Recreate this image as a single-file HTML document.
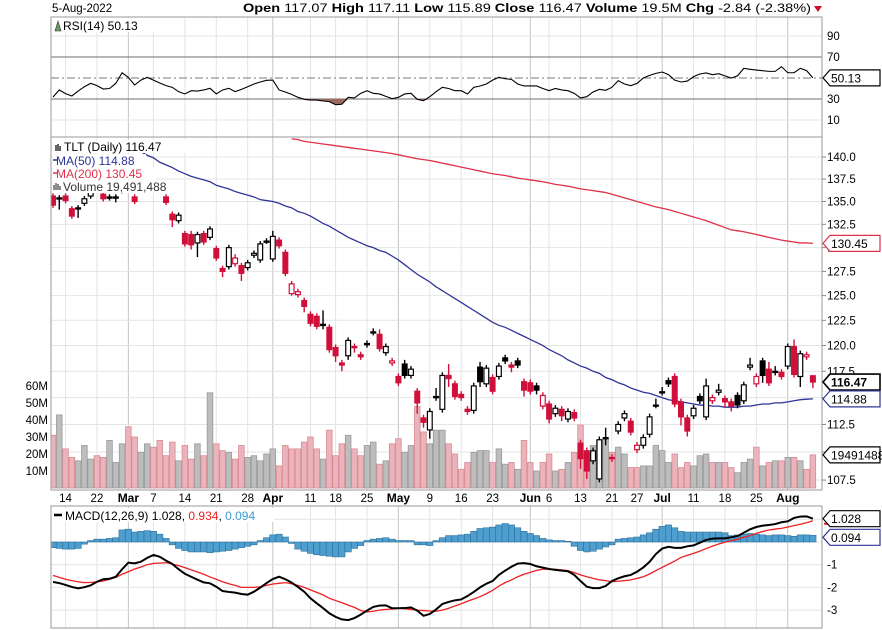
<!DOCTYPE html>
<html><head><meta charset="utf-8"><style>
html,body{margin:0;padding:0;background:#fff;}
svg{display:block;font-family:"Liberation Sans",Arial,sans-serif;}
</style></head><body>
<svg id="chart" width="882" height="630" viewBox="0 0 882 630" xmlns="http://www.w3.org/2000/svg">
<g id="header" font-size="12">
<text x="52" y="12" font-size="11.5" fill="#000">5-Aug-2022</text>
<text x="243" y="12" fill="#000" textLength="568" lengthAdjust="spacingAndGlyphs"><tspan font-weight="bold">Open</tspan> 117.07 <tspan font-weight="bold">High</tspan> 117.11 <tspan font-weight="bold">Low</tspan> 115.89 <tspan font-weight="bold">Close</tspan> 116.47 <tspan font-weight="bold">Volume</tspan> 19.5M <tspan font-weight="bold">Chg</tspan> -2.84 (-2.38%)</text>
<path d="M814,6 L822,6 L818,12 Z" fill="#c8102e"/>
</g>
<g id="grid"></g>
<g id="rsi"></g>
<g id="price"></g>
<g id="macd"></g>
<g id="frames"></g>
<g id="labels"></g>
</svg>
<script>
// ---------- data ----------
const opens=[135.6,135.4,135.6,134.2,134.2,134.8,135.6,136.7,135.8,135.5,
135.4,136.2,136.8,135.5,136.3,136.9,137.1,136.8,135.5,133.6,
132.9,131.5,131.4,130.5,131.5,131.1,129.9,127.8,128.0,128.3,
128.1,127.9,129.2,128.7,130.6,128.8,130.8,129.5,125.2,125.1,
124.5,123.1,122.9,122.1,121.8,119.8,118.3,119.0,119.9,119.1,
120.2,121.3,121.1,119.3,118.3,117.0,118.2,117.1,115.6,113.1,
112.0,115.1,113.9,117.1,116.3,115.3,113.9,113.8,117.9,116.3,
116.9,117.0,118.8,118.1,118.5,116.5,116.4,116.1,114.2,114.4,
113.5,113.9,113.0,113.6,110.8,110.1,109.2,107.6,111.3,109.5,
111.9,113.1,112.8,110.2,110.6,111.6,114.25,115.5,116.6,117.0,
114.6,113.1,113.3,115.1,113.2,114.7,115.5,114.9,114.6,115.2,
114.7,117.9,116.3,118.5,117.7,117.5,117.4,118.0,119.9,117.0,
118.9,117.07];
const closes=[134.6,135.3,135.1,133.4,134.3,135.3,136.6,136.4,135.3,135.4,
135.5,136.8,136.5,135.0,136.9,137.2,136.8,136.5,134.9,133.0,
133.5,130.4,130.3,131.4,130.6,132.0,128.9,127.5,130.0,128.9,
127.3,128.4,129.4,130.4,130.7,131.2,130.2,127.3,126.2,125.4,
123.9,122.2,121.9,122.0,119.6,119.0,118.1,120.5,119.8,118.9,
120.1,121.35,119.7,119.9,118.5,116.4,117.1,117.7,114.5,112.7,
113.7,115.0,117.1,116.8,115.1,115.0,113.7,116.1,116.5,117.8,
115.6,118.0,118.5,117.9,118.1,115.7,115.6,115.7,115.2,113.0,
114.0,113.3,113.7,113.1,109.4,108.3,110.1,111.1,111.2,109.4,
112.5,113.5,111.8,110.6,111.3,113.2,114.3,115.55,116.3,114.4,
113.2,111.9,114.0,114.7,116.1,115.0,115.7,114.6,114.2,114.3,
116.2,118.1,117.0,117.1,116.4,117.45,117.0,119.9,117.2,119.2,
119.1,116.47];
const highs=[135.9,135.7,135.9,134.5,134.6,135.6,136.9,137.0,136.1,135.8,
135.8,137.1,137.1,135.8,137.2,137.5,137.4,137.1,135.8,133.9,
133.8,131.8,131.8,131.7,131.8,132.3,130.2,128.1,130.3,129.3,
128.4,128.7,129.7,130.7,131.0,131.8,131.1,129.8,126.5,125.7,
124.8,123.4,123.2,123.5,122.1,120.1,118.6,120.8,120.2,119.4,
120.5,121.7,121.6,120.2,118.8,117.3,118.6,118.0,115.9,113.4,
114.0,115.9,117.4,118.2,116.6,115.6,114.2,116.4,118.4,118.1,
117.2,118.3,119.1,118.4,118.8,116.8,116.7,116.4,115.5,114.7,
114.3,114.2,114.0,113.9,111.1,110.4,110.4,111.4,112.2,109.8,
112.8,113.8,113.1,110.9,111.6,113.5,114.9,116.0,116.9,117.3,
114.9,113.4,114.3,115.4,116.8,115.3,116.3,115.2,114.9,115.5,
116.5,118.8,117.3,118.8,118.4,118.0,117.7,120.2,120.6,119.5,
119.4,117.11];
const lows=[134.3,134.1,134.8,133.1,133.2,134.5,135.3,136.1,135.0,135.1,
134.9,135.9,136.2,134.7,136.0,136.6,136.5,136.2,134.6,132.2,
132.6,130.1,129.8,129.0,130.3,130.8,128.6,126.9,127.7,128.0,
126.5,127.6,128.9,128.4,130.4,128.5,129.9,127.0,125.0,124.8,
123.3,121.9,121.6,121.6,119.3,118.4,117.5,118.6,119.3,118.6,
119.8,121.0,119.4,119.0,118.0,116.1,116.8,116.8,113.5,112.2,
111.2,114.7,113.6,116.0,114.8,114.7,113.4,113.5,116.0,116.0,
115.3,116.7,118.2,117.4,117.8,115.1,115.3,115.3,113.9,112.6,
113.2,112.8,112.7,112.8,108.5,107.6,108.9,107.3,110.6,109.1,
111.6,112.8,111.5,109.9,110.3,111.3,114.0,115.2,116.0,114.1,
112.4,111.4,113.0,114.4,112.9,114.4,115.2,114.1,113.7,114.0,
114.4,117.6,116.0,116.4,116.1,117.1,116.7,117.7,116.9,116.0,
118.6,115.89];
const volumes=[31,43,23,18,16,25,17,19,18,28,15,26,36,30,21,26,24,28,19,27,
16,25,17,26,19,56,26,22,21,17,25,18,19,16,20,23,13,25,23,23,
27,30,23,17,34,19,26,31,23,19,25,27,14,16,26,29,21,25,48,33,
26,34,34,26,20,11,15,21,22,22,15,23,14,15,11,28,15,10,15,20,
10,11,15,21,37,20,25,28,29,21,24,20,12,12,13,13,25,22,15,20,
12,15,13,19,20,15,15,15,12,9,15,17,24,13,15,16,16,18,18,16,
11,19.49];
const ma50=[null,null,null,null,null,null,null,null,null,null,null,null,
141.0,140.8,140.6,140.2,139.9,139.4,139.1,138.8,138.4,138.1,137.8,137.6,137.4,137.2,136.8,136.6,136.4,136.1,
135.9,135.7,135.5,135.2,135.1,135.0,134.8,134.5,134.3,133.9,133.7,133.4,133.0,132.6,132.3,131.9,131.5,131.1,
130.8,130.5,130.2,130.0,129.7,129.5,129.1,128.7,128.2,127.7,127.2,126.8,126.4,125.9,125.5,125.1,124.7,124.3,
123.9,123.5,123.1,122.7,122.3,122.0,121.8,121.5,121.2,120.9,120.6,120.3,120.0,119.6,119.3,119.0,118.6,118.3,
118.0,117.8,117.5,117.3,116.9,116.7,116.4,116.2,115.9,115.7,115.5,115.4,115.2,115.0,114.8,114.7,114.6,114.5,
114.4,114.3,114.3,114.2,114.2,114.1,114.1,114.1,114.2,114.2,114.3,114.4,114.4,114.5,114.5,114.6,114.7,114.8,
114.85,114.88];
const ma200=[null,null,null,null,null,null,null,null,null,null,null,null,null,null,null,null,null,null,null,null,
null,null,null,null,null,null,null,null,null,null,null,null,null,null,null,null,null,null,
142.1,142.0,141.8,141.7,141.6,141.5,141.4,141.3,141.2,141.1,141.0,140.9,140.8,140.7,140.6,140.5,140.4,140.25,
140.1,139.95,139.8,139.7,139.6,139.45,139.3,139.15,139.0,138.85,138.7,138.55,138.4,138.25,138.1,138.0,137.9,137.75,
137.6,137.5,137.4,137.3,137.2,137.05,136.9,136.8,136.7,136.55,136.4,136.3,136.2,136.1,136.0,135.8,135.6,135.4,
135.2,135.0,134.8,134.6,134.4,134.25,134.1,133.9,133.7,133.5,133.3,133.1,132.9,132.65,132.4,132.15,131.9,131.8,
131.7,131.55,131.4,131.25,131.1,130.95,130.8,130.7,130.6,130.5,130.5,130.45];
const rsiValues=[31.9,38.6,35.1,32.9,37.6,41.7,44.9,42.7,39.5,40,44.9,55,50.6,43.3,48,50.6,48,45.2,42.7,41.1,
37,34.8,37.9,37.6,38.6,40.2,34.8,38.6,40.2,37,39.2,41.7,44.3,46.2,47.8,48,38.6,36.7,34.4,31.6,
29.7,29,29,28.1,27.5,24.6,25,31.6,31,35.4,37.9,35.4,34.8,32.5,30.3,31.6,34.8,35.4,29.7,28.4,
32.2,37,41.1,40,37.9,37.9,34.8,41.1,42.4,44.3,48,50.6,49.3,48.7,44.3,42.4,42.4,42.4,40,37.9,
40,38.6,37.9,35.4,31,32.2,36.7,39.2,38.3,41.1,47.5,44.3,42.7,44.9,50,52.5,54.4,55.7,53.2,48,
46.2,47.1,51.3,53.8,54.8,53.2,54.1,52,50,52,59.2,58.3,57.6,57,56.3,56.3,60.8,55,55,59.2,
57,50.13];
const macdValues=[-1.76,-1.81,-1.89,-1.98,-2.04,-1.99,-1.91,-1.75,-1.64,-1.62,-1.53,-1.2,-0.91,-0.94,-0.87,-0.7,-0.57,-0.65,-0.82,-0.97,
-1.2,-1.4,-1.53,-1.66,-1.78,-1.82,-1.97,-2.16,-2.2,-2.23,-2.29,-2.32,-2.19,-2.01,-1.81,-1.63,-1.53,-1.64,-1.79,-1.98,
-2.19,-2.48,-2.7,-2.91,-3.14,-3.3,-3.41,-3.44,-3.35,-3.2,-3.02,-2.86,-2.8,-2.79,-2.92,-2.92,-2.91,-2.88,-3.02,-3.25,
-3.17,-2.97,-2.73,-2.64,-2.57,-2.53,-2.38,-2.2,-2.0,-1.84,-1.72,-1.45,-1.26,-1.09,-0.95,-0.93,-0.97,-1.07,-1.13,-1.19,
-1.23,-1.26,-1.29,-1.45,-1.72,-1.97,-2.03,-2.03,-1.94,-1.72,-1.6,-1.51,-1.45,-1.31,-1.12,-0.87,-0.53,-0.29,-0.21,-0.26,
-0.26,-0.19,-0.15,-0.03,0.09,0.15,0.16,0.16,0.21,0.26,0.41,0.56,0.66,0.72,0.75,0.79,0.87,0.91,1.06,1.12,
1.13,1.028];
const signalValues=[-1.47,-1.56,-1.64,-1.7,-1.75,-1.79,-1.78,-1.76,-1.72,-1.64,-1.56,-1.42,-1.31,-1.19,-1.1,-1.0,-0.94,-0.93,-0.91,-0.97,
-1.04,-1.13,-1.23,-1.32,-1.42,-1.54,-1.64,-1.75,-1.84,-1.91,-2.0,-2.0,-2.0,-1.97,-1.91,-1.85,-1.82,-1.79,-1.84,-1.91,
-2.0,-2.11,-2.22,-2.33,-2.48,-2.58,-2.67,-2.78,-2.88,-3.02,-3.08,-3.05,-3.0,-2.97,-2.95,-2.92,-2.94,-2.97,-3.0,-3.02,
-3.04,-3.05,-3.0,-2.92,-2.82,-2.72,-2.61,-2.51,-2.41,-2.28,-2.13,-1.94,-1.79,-1.67,-1.53,-1.42,-1.34,-1.25,-1.2,-1.2,
-1.2,-1.23,-1.26,-1.35,-1.45,-1.53,-1.6,-1.67,-1.7,-1.75,-1.73,-1.7,-1.67,-1.6,-1.53,-1.41,-1.26,-1.12,-0.98,-0.84,
-0.68,-0.59,-0.5,-0.4,-0.29,-0.18,-0.09,-0.01,0.06,0.12,0.21,0.28,0.38,0.46,0.53,0.57,0.6,0.66,0.72,0.78,
0.85,0.934];
const histValues=[-0.08,-0.09,-0.1,-0.1,-0.09,-0.03,0.02,0.04,0.04,0.05,0.06,0.17,0.18,0.14,0.15,0.16,0.15,0.11,0.05,-0.04,
-0.09,-0.12,-0.14,-0.14,-0.14,-0.15,-0.14,-0.13,-0.12,-0.1,-0.08,-0.06,-0.04,0.02,0.06,0.1,0.11,0.07,-0.02,-0.1,
-0.13,-0.16,-0.18,-0.19,-0.2,-0.21,-0.21,-0.14,-0.09,-0.05,0.02,0.04,0.05,0.06,0.04,0.02,0.02,0.02,-0.04,-0.04,
-0.05,0.02,0.06,0.09,0.09,0.1,0.11,0.15,0.19,0.2,0.21,0.24,0.26,0.24,0.2,0.15,0.12,0.09,0.05,0.03,
0.02,0.02,0.01,-0.06,-0.12,-0.14,-0.13,-0.1,-0.07,-0.04,0.04,0.05,0.06,0.07,0.1,0.13,0.18,0.22,0.24,0.2,
0.15,0.14,0.14,0.14,0.14,0.14,0.14,0.13,0.09,0.1,0.11,0.12,0.11,0.1,0.09,0.1,0.1,0.09,0.08,0.1,
0.1,0.094];
const dateTickIdx=[2,7,12,16,21,26,31,35,41,45,50,55,60,65,70,76,79,84,89,93,97,102,107,112,117];
const dateTickLabels=['14','22','Mar','7','14','21','28','Apr','11','18','25','May','9','16','23','Jun','6','13','21','27','Jul','11','18','25','Aug'];
const priceTicks=[140.0,137.5,135.0,132.5,130.0,127.5,125.0,122.5,120.0,117.5,115.0,112.5,110.0,107.5];
const volumeTicks=[10,20,30,40,50,60];
const rsiTicks=[90,70,30,10];
const macdTicks=[-1,-2,-3];

// ---------- scales ----------
const L=51,R=822;
const xOf=i=>53+6.28*i;
const yPrice=p=>157+Math.log(140/p)*1223;
const yVol=v=>488-v*1.7;
const yRsi=r=>57+(70-r)*1.05;
const yMacd=v=>542-v*22.7;
const yHist=v=>542-v*71;
const NS='http://www.w3.org/2000/svg';
function mk(tag,attrs,parent){const e=document.createElementNS(NS,tag);for(const k in attrs)e.setAttribute(k,attrs[k]);parent.appendChild(e);return e;}
const grid=document.getElementById('grid'),rsiG=document.getElementById('rsi'),priceG=document.getElementById('price'),macdG=document.getElementById('macd'),frames=document.getElementById('frames'),labels=document.getElementById('labels');
const panels=[[17,137],[137,490],[506,628]];

// clip paths
const defs=mk('defs',{},document.getElementById('chart'));
panels.forEach((p,k)=>{const c=mk('clipPath',{id:'clip'+k},defs);mk('rect',{x:L,y:p[0],width:R-L,height:p[1]-p[0]},c);});
rsiG.setAttribute('clip-path','url(#clip0)');priceG.setAttribute('clip-path','url(#clip1)');macdG.setAttribute('clip-path','url(#clip2)');

// vertical grid + date labels
dateTickIdx.forEach((idx,k)=>{
  const x=xOf(idx);const month=isNaN(+dateTickLabels[k]);
  panels.forEach(p=>{
    const ln=mk('line',{x1:x,x2:x,y1:p[0],y2:p[1],stroke:month?'#c4c4c4':'#e4e4e4','stroke-width':1},grid);
    
    
  });
  const t=mk('text',{x:x,y:502,'text-anchor':'middle','font-size':month?12:11.5,'font-weight':month?'bold':'normal',fill:'#000'},labels);
  t.textContent=dateTickLabels[k];
  
  
});
// horizontal price grid & labels
priceTicks.forEach(p=>{
  const y=yPrice(p);
  const ln=mk('line',{x1:L,x2:R,y1:y,y2:y,stroke:'#e4e4e4'},grid);
  
  
  const tk=mk('line',{x1:R,x2:R+4,y1:y,y2:y,stroke:'#888'},labels);
  
  
  const t=mk('text',{x:R+5,y:y+4,'font-size':11.5,fill:'#000'},labels);
  t.textContent=p.toFixed(1);
  
  
});
volumeTicks.forEach(v=>{
  const y=yVol(v);
  const t=mk('text',{x:48,y:y+4,'text-anchor':'end','font-size':11.5,fill:'#000'},labels);
  t.textContent=v+'M';
  
  
});
// RSI grid
rsiTicks.forEach(r=>{
  const y=yRsi(r);const strong=(r===70||r===30);
  const ln=mk('line',{x1:L,x2:R,y1:y,y2:y,stroke:strong?'#8a8a8a':'#e4e4e4','stroke-width':strong?1.3:1},grid);
  
  
  const t=mk('text',{x:R+5,y:y+4,'font-size':11.5,fill:'#000'},labels);
  t.textContent=r;
  
  
});
{const y=yRsi(50);const ln=mk('line',{x1:L,x2:R,y1:y,y2:y,stroke:'#777','stroke-dasharray':'8,3,2,3'},grid);

}
// MACD grid
[1,0,-1,-2,-3].forEach(v=>{const y=yMacd(v);const ln=mk('line',{x1:L,x2:R,y1:y,y2:y,stroke:'#e4e4e4'},grid);

});
macdTicks.forEach(v=>{const y=yMacd(v);const t=mk('text',{x:R+5,y:y+4,'font-size':11.5,fill:'#000'},labels);t.textContent=v;

});

// ---------- RSI ----------
{
  let fill='';
  // oversold fill below 30
  const y30=yRsi(30);
  let d='M'+xOf(0)+','+y30;
  rsiValues.forEach((r,i)=>{d+=' L'+xOf(i)+','+Math.max(yRsi(r),y30);});
  d+=' L'+xOf(rsiValues.length-1)+','+y30+' Z';
  const f=mk('path',{d:d,fill:'#9c6a5e',stroke:'none'},rsiG);
  
  
  const pts=rsiValues.map((r,i)=>xOf(i)+','+yRsi(r)).join(' ');
  const pl=mk('polyline',{points:pts,fill:'none',stroke:'#000','stroke-width':1.1},rsiG);
  
  
}

// ---------- volume ----------
volumes.forEach((v,i)=>{
  const down=i===0||closes[i]<closes[i-1];
  const y=yVol(v);
  const r=mk('rect',{x:xOf(i)-2.8,y:y,width:5.6,height:488-y,fill:down?'#ebb4ba':'#bdbdbd',stroke:down?'#d98a94':'#999','stroke-width':0.8},priceG);
  
  
});
// moving averages
function maLine(arr,color,name){
  let d='';arr.forEach((v,i)=>{if(v==null)return;d+=(d?' L':'M')+xOf(i)+','+yPrice(v);});
  const p=mk('path',{d:d,fill:'none',stroke:color,'stroke-width':1.3},priceG);
  
  
}
maLine(ma200,'#e0304a','ma200-line');
maLine(ma50,'#2e3596','ma50-line');
// candles
opens.forEach((o,i)=>{
  const c=closes[i];const x=xOf(i);
  const red=i>0?c<closes[i-1]:true;
  const col=red?'#d0103a':'#000';
  const hollow=c>o;
  const w=mk('line',{x1:x,x2:x,y1:yPrice(highs[i]),y2:yPrice(lows[i]),stroke:col,'stroke-width':1.4},priceG);
  
  
  const yt=yPrice(Math.max(o,c)),yb=yPrice(Math.min(o,c));
  const h=Math.max(yb-yt,1.2);
  const b=mk('rect',{x:x-2.4,y:yt,width:4.8,height:h,fill:hollow?'#fff':col,stroke:col,'stroke-width':1.2},priceG);
  
  
});

// ---------- MACD ----------
histValues.forEach((h,i)=>{
  const y0=yHist(0),y1=yHist(h);
  const r=mk('rect',{x:xOf(i)-3.14,y:Math.min(y0,y1),width:6.28,height:Math.max(Math.abs(y1-y0),0.6),fill:'#4e9fcf',stroke:'#2b6f9a','stroke-width':0.6},macdG);
  
  
});
{
  const sp=mk('polyline',{points:signalValues.map((v,i)=>xOf(i)+','+yMacd(v)).join(' '),fill:'none',stroke:'#ee2020','stroke-width':1.3},macdG);
  
  
  const mp=mk('polyline',{points:macdValues.map((v,i)=>xOf(i)+','+yMacd(v)).join(' '),fill:'none',stroke:'#000','stroke-width':2},macdG);
  
  
}

// ---------- frames ----------
panels.forEach(p=>{
  const r=mk('rect',{x:L,y:p[0],width:R-L,height:p[1]-p[0],fill:'none',stroke:'#9a9a9a','stroke-width':1},frames);
  
  
});

// ---------- tags ----------
function tag(y,text,color,bold,name){
  const g=mk('g',{},labels);
  
  
  mk('path',{d:`M${R+1},${y} L${R+8},${y-8} L880,${y-8} L880,${y+8} L${R+8},${y+8} Z`,fill:'#fff',stroke:color,'stroke-width':bold?1.6:1.2},g);
  const t=mk('text',{x:R+9,y:y+4.5,'font-size':12,'font-weight':bold?'bold':'normal',fill:'#000'},g);
  t.textContent=text;
}
tag(yRsi(rsiValues[rsiValues.length-1]),rsiValues[rsiValues.length-1].toFixed(2),'#000',false,'rsi-value-tag');
tag(yPrice(ma200[ma200.length-1]),ma200[ma200.length-1].toFixed(2),'#e0304a',false,'ma200-value-tag');
tag(yPrice(closes[closes.length-1]),closes[closes.length-1].toFixed(2),'#000',true,'close-price-tag');
tag(yPrice(ma50[ma50.length-1]),ma50[ma50.length-1].toFixed(2),'#2e3596',false,'ma50-value-tag');
tag(yVol(volumes[volumes.length-1]),'19491488','#000',false,'volume-value-tag');
{const y=yMacd(signalValues[signalValues.length-1]);const ln=mk('line',{x1:R+2,x2:870,y1:y+3,y2:y+3,stroke:'#ee2020','stroke-width':2},labels);

}
tag(yMacd(macdValues[macdValues.length-1]),macdValues[macdValues.length-1].toFixed(3),'#000',false,'macd-value-tag');
tag(yHist(histValues[histValues.length-1])+2,histValues[histValues.length-1].toFixed(3),'#2e3596',false,'histogram-value-tag');
</script>
<svg width="0" height="0"></svg>
<script>
// ---------- legends ----------
(function(){
const NS='http://www.w3.org/2000/svg';const svg=document.getElementById('chart');
function mk(tag,attrs,parent){const e=document.createElementNS(NS,tag);for(const k in attrs)e.setAttribute(k,attrs[k]);parent.appendChild(e);return e;}
const g=mk('g',{},svg);


mk('rect',{x:52,y:18,width:120,height:14,fill:'#fff'},g);
mk('path',{d:'M55,31 L58,21 L61,31 Z',fill:'#6a9a6a',stroke:'#333','stroke-width':0.6},g);
const t1=mk('text',{x:63,y:30,'font-size':12,fill:'#000'},g);t1.textContent='RSI(14) 50.13';


mk('rect',{x:52,y:140,width:148,height:13,fill:'#fff'},g);
mk('rect',{x:52,y:154,width:94,height:13,fill:'#fff'},g);
mk('rect',{x:52,y:167,width:104,height:13,fill:'#fff'},g);
mk('rect',{x:52,y:180,width:126,height:13,fill:'#fff'},g);
mk('path',{d:'M56,145 L56,151 M58,144 L58,151 M60,146 L60,151',stroke:'#000','stroke-width':1.2},g);
const t2=mk('text',{x:64,y:151,'font-size':12,fill:'#000'},g);t2.textContent='TLT (Daily) 116.47';


mk('line',{x1:53,x2:57,y1:160,y2:160,stroke:'#2e3596','stroke-width':1.5},g);
const t3=mk('text',{x:56,y:165,'font-size':12,fill:'#2e3596'},g);t3.textContent='MA(50) 114.88';


mk('line',{x1:53,x2:57,y1:173,y2:173,stroke:'#e0304a','stroke-width':1.5},g);
const t4=mk('text',{x:56,y:178,'font-size':12,fill:'#e0304a'},g);t4.textContent='MA(200) 130.45';


mk('path',{d:'M54,190 L54,185 M56,190 L56,183 M58,190 L58,184 M60,190 L60,186',stroke:'#666','stroke-width':1.5},g);
const t5=mk('text',{x:63,y:191,'font-size':12,fill:'#333'},g);t5.textContent='Volume 19,491,488';


mk('rect',{x:52,y:508,width:222,height:14,fill:'#fff'},g);
mk('line',{x1:54,x2:62,y1:515,y2:515,stroke:'#000','stroke-width':2.5},g);
const t6=mk('text',{x:65,y:520,'font-size':12,fill:'#000'},g);


const s1=mk('tspan',{},t6);s1.textContent='MACD(12,26,9) 1.028, ';
const s2=mk('tspan',{fill:'#ee2020'},t6);s2.textContent='0.934';
const s3=mk('tspan',{},t6);s3.textContent=', ';
const s4=mk('tspan',{fill:'#3a9ad0'},t6);s4.textContent='0.094';
})();
</script>
</body></html>
